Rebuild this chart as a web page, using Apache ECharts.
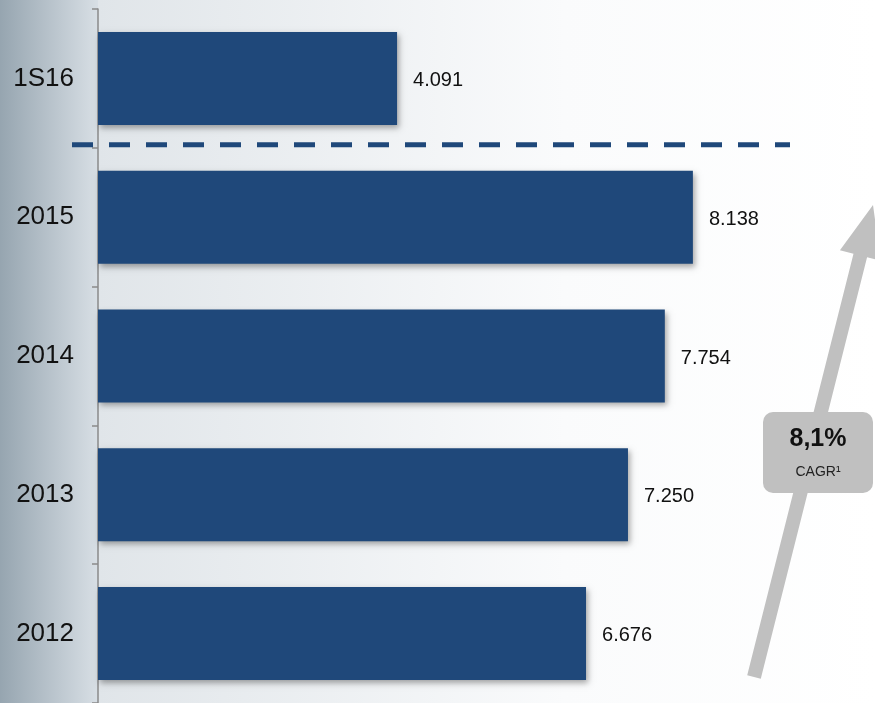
<!DOCTYPE html>
<html>
<head>
    <meta charset="utf-8"/>
    <title>ECharts</title>
    <script src="https://cdn.jsdelivr.net/npm/echarts@6/dist/echarts.min.js"></script>
    <style>
        html, body { margin: 0; padding: 0; }
        #main { width: 875px; height: 703px; }
    </style>
</head>
<body>
<div id="main"></div>
<script type="text/javascript">
    // data, bottom to top
    var categories = ['2012', '2013', '2014', '2015', '1S16'];
    var values = [6.676, 7.250, 7.754, 8.138, 4.091];
    var labels = ['6.676', '7.250', '7.754', '8.138', '4.091'];
    var cagrText = '8,1%';
    var cagrSub = 'CAGR¹';

    var barColor = '#1f487a';
    var arrowColor = '#c0c0c0';

    var myChart = echarts.init(document.getElementById('main'));

    var option = {
        animation: false,
        backgroundColor: '#ffffff',
        grid: { left: 98, top: 9, width: 731, height: 697 },
        xAxis: { type: 'value', min: 0, max: 10, show: false },
        yAxis: {
            type: 'category',
            data: categories,
            axisLine: { lineStyle: { color: '#8a8a8a', width: 1.5 } },
            axisTick: { show: true, length: 6, lineStyle: { color: '#8a8a8a', width: 1.5 } },
            axisLabel: { margin: 24, color: '#111', fontSize: 26, fontFamily: 'Liberation Sans, Arial',
                padding: [4, 0, 0, 0] }
        },
        graphic: [],
        series: [{
            type: 'bar',
            data: values,
            barCategoryGap: '33%',
            itemStyle: {
                color: barColor,
                shadowColor: 'rgba(0,0,0,0.35)',
                shadowBlur: 6,
                shadowOffsetX: 2,
                shadowOffsetY: 3
            },
            label: {
                show: true,
                position: 'right',
                distance: 16,
                offset: [0, 2],
                color: '#111',
                fontSize: 20,
                fontFamily: 'Liberation Sans, Arial',
                formatter: function (p) { return labels[p.dataIndex]; }
            }
        }]
    };
    myChart.setOption(option);

    // decorations placed from the axis scale
    var yTop = myChart.convertToPixel({ yAxisIndex: 0 }, '1S16');
    var yNext = myChart.convertToPixel({ yAxisIndex: 0 }, '2015');
    var yDash = (yTop + yNext) / 2 - 3;

    // arrow geometry
    var tip = [873, 205], base = [754, 677];
    var dx = tip[0] - base[0], dy = tip[1] - base[1];
    var len = Math.sqrt(dx * dx + dy * dy);
    var u = [dx / len, dy / len], n = [-u[1], u[0]];
    var headLen = 52, headW = 21, shaftW = 7;
    var hb = [tip[0] - headLen * u[0], tip[1] - headLen * u[1]];
    function pt(c, s) { return [c[0] + s * n[0], c[1] + s * n[1]]; }
    var arrowPts = [pt(base, -shaftW), pt(hb, -shaftW), pt(hb, -headW), tip,
        pt(hb, headW), pt(hb, shaftW), pt(base, shaftW)];

    myChart.setOption({
        graphic: [
            {
                type: 'rect', z: -10, silent: true,
                shape: { x: 0, y: 0, width: 98, height: 703 },
                style: { fill: new echarts.graphic.LinearGradient(0, 0, 1, 0, [
                    { offset: 0, color: '#96a5b0' },
                    { offset: 1, color: '#d8dfe5' }
                ]) }
            },
            {
                type: 'rect', z: -10, silent: true,
                shape: { x: 98, y: 0, width: 777, height: 703 },
                style: { fill: new echarts.graphic.LinearGradient(0, 0, 1, 0, [
                    { offset: 0, color: '#e0e5e9' },
                    { offset: 0.6, color: '#fafbfc' },
                    { offset: 1, color: '#ffffff' }
                ]) }
            },
            {
                type: 'line', z: 10, silent: true,
                shape: { x1: 72, y1: yDash, x2: 790, y2: yDash },
                style: { stroke: barColor, lineWidth: 5, lineDash: [21, 16] }
            },
            {
                type: 'polygon', z: 10, silent: true,
                shape: { points: arrowPts },
                style: { fill: arrowColor }
            },
            {
                type: 'rect', z: 11, silent: true,
                shape: { x: 763, y: 412, width: 110, height: 81, r: 10 },
                style: { fill: arrowColor }
            },
            {
                type: 'text', z: 12, silent: true,
                x: 818, y: 439,
                style: { text: cagrText, fill: '#111', font: 'bold 25px Liberation Sans, Arial',
                    align: 'center', verticalAlign: 'middle' }
            },
            {
                type: 'text', z: 12, silent: true,
                x: 818, y: 472,
                style: { text: cagrSub, fill: '#222', font: '14px Liberation Sans, Arial',
                    align: 'center', verticalAlign: 'middle' }
            }
        ]
    });
</script>
</body>
</html>
